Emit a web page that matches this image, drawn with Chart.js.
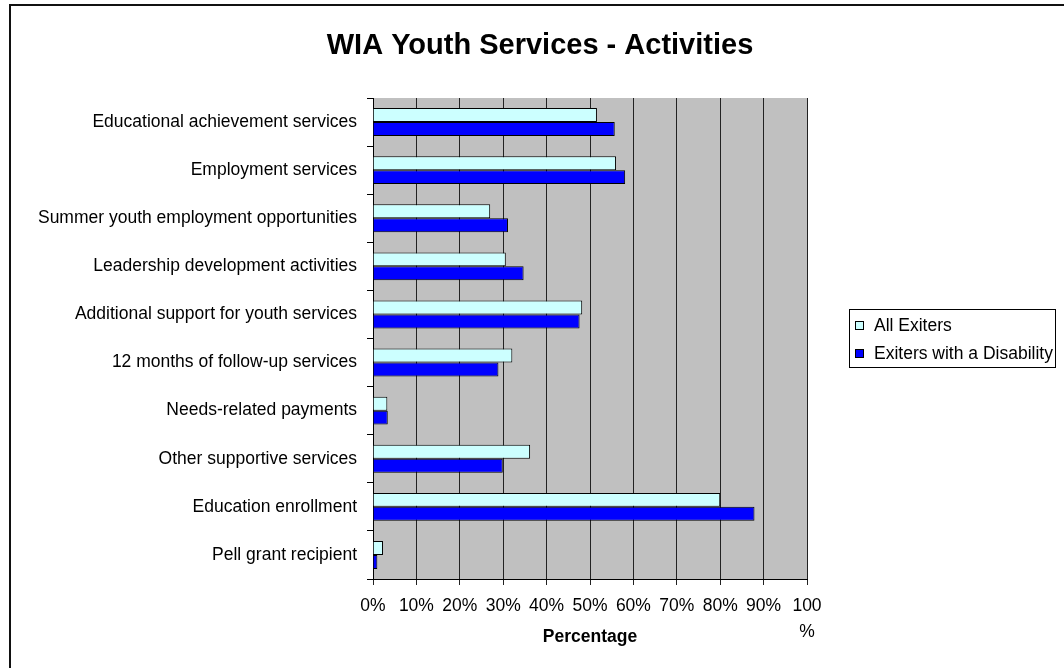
<!DOCTYPE html>
<html>
<head>
<meta charset="utf-8">
<script src="https://cdn.jsdelivr.net/npm/chart.js@4.4.1/dist/chart.umd.min.js"></script>
<style>
  html, body { margin: 0; padding: 0; background: #fff; }
  #wrap { width: 1064px; height: 668px; }
</style>
</head>
<body>
<div id="wrap"><canvas id="myChart" width="1064" height="668"></canvas></div>
<script>
const categories = [
  'Educational achievement services',
  'Employment services',
  'Summer youth employment opportunities',
  'Leadership development activities',
  'Additional support for youth services',
  '12 months of follow-up services',
  'Needs-related payments',
  'Other supportive services',
  'Education enrollment',
  'Pell grant recipient'
];
const allExiters = [51.6, 56.0, 27.0, 30.6, 48.2, 32.1, 3.3, 36.2, 80.0, 2.3];
const disabilityExiters = [55.7, 58.1, 31.1, 34.7, 47.6, 28.9, 3.4, 29.9, 87.9, 1.0];
const tickLabels = ['0%', '10%', '20%', '30%', '40%', '50%', '60%', '70%', '80%', '90%', ['100', '%']];

const FONT = 'Arial, "Liberation Sans", sans-serif';

// frame, plot background, title and legend box
const excelLook = {
  id: 'excelLook',
  beforeDraw(chart) {
    const ctx = chart.ctx;
    const a = chart.chartArea;
    ctx.save();
    ctx.fillStyle = '#c0c0c0';
    ctx.fillRect(a.left, a.top, a.right - a.left, a.bottom - a.top);
    ctx.restore();
  },
  afterDraw(chart) {
    const ctx = chart.ctx;
    ctx.save();
    // outer frame
    ctx.strokeStyle = '#111';
    ctx.lineWidth = 2;
    ctx.beginPath();
    ctx.moveTo(10, 668);
    ctx.lineTo(10, 5);
    ctx.lineTo(1064, 5);
    ctx.stroke();

    // title
    ctx.fillStyle = '#000';
    ctx.font = 'bold 29px ' + FONT;
    ctx.textAlign = 'center';
    ctx.textBaseline = 'middle';
    ctx.fillText('WIA Youth Services - Activities', 540, 46);

    // legend
    ctx.fillStyle = '#fff';
    ctx.fillRect(849, 309, 206, 58);
    ctx.strokeStyle = '#000';
    ctx.lineWidth = 1;
    ctx.strokeRect(849.5, 309.5, 206, 58);
    ctx.font = '17.5px ' + FONT;
    ctx.textAlign = 'left';
    chart.data.datasets.forEach((ds, i) => {
      const y = 325 + i * 28;
      ctx.fillStyle = ds.backgroundColor;
      ctx.fillRect(855, y - 4, 8, 8);
      ctx.strokeStyle = '#000';
      ctx.strokeRect(855.5, y - 3.5, 8, 8);
      ctx.fillStyle = '#000';
      ctx.fillText(ds.label, 874, y + 1);
    });
    ctx.restore();
  }
};

const ctx = document.getElementById('myChart').getContext('2d');
const myChart = new Chart(ctx, {
  type: 'bar',
  data: {
    labels: categories,
    datasets: [{
      label: 'All Exiters',
      data: allExiters,
      backgroundColor: '#ccffff',
      borderColor: '#000',
      borderWidth: 1,
    }, {
      label: 'Exiters with a Disability',
      data: disabilityExiters,
      backgroundColor: '#0000ff',
      borderColor: '#000',
      borderWidth: 1,
    }]
  },
  options: {
    indexAxis: 'y',
    responsive: false,
    animation: false,
    devicePixelRatio: 1,
    layout: { padding: { top: 98, right: 257, left: 0, bottom: 0 } },
    categoryPercentage: 0.58,
    barPercentage: 1,
    plugins: {
      legend: { display: false },
      title: { display: false },
      tooltip: { enabled: false }
    },
    scales: {
      x: {
        min: 0,
        max: 100,
        afterFit(scale) { scale.height = 89; },
        afterBuildTicks(scale) {
          scale.ticks = tickLabels.map((t, i) => ({ value: i * 10 }));
        },
        ticks: {
          stepSize: 10,
          padding: 8,
          color: '#000',
          maxRotation: 0,
          font: { family: FONT, size: 17.5, lineHeight: 1.5 },
          callback: (v, i) => tickLabels[i]
        },
        grid: {
          color: '#222',
          lineWidth: 1,
          tickLength: 6,
          drawTicks: true,
        },
        border: { color: '#000', width: 1 },
        title: {
          display: true,
          text: 'Percentage',
          color: '#000',
          font: { family: FONT, size: 17.5, weight: 'bold' },
          padding: { top: 0, bottom: 20 }
        }
      },
      y: {
        afterFit(scale) { scale.width = 373; },
        ticks: {
          padding: 10,
          color: '#000',
          font: { family: FONT, size: 17.5 }
        },
        grid: {
          offset: true,
          drawOnChartArea: false,
          drawTicks: true,
          tickLength: 6,
          color: '#000'
        },
        border: { color: '#000', width: 1 }
      }
    }
  },
  plugins: [excelLook]
});
</script>
</body>
</html>
